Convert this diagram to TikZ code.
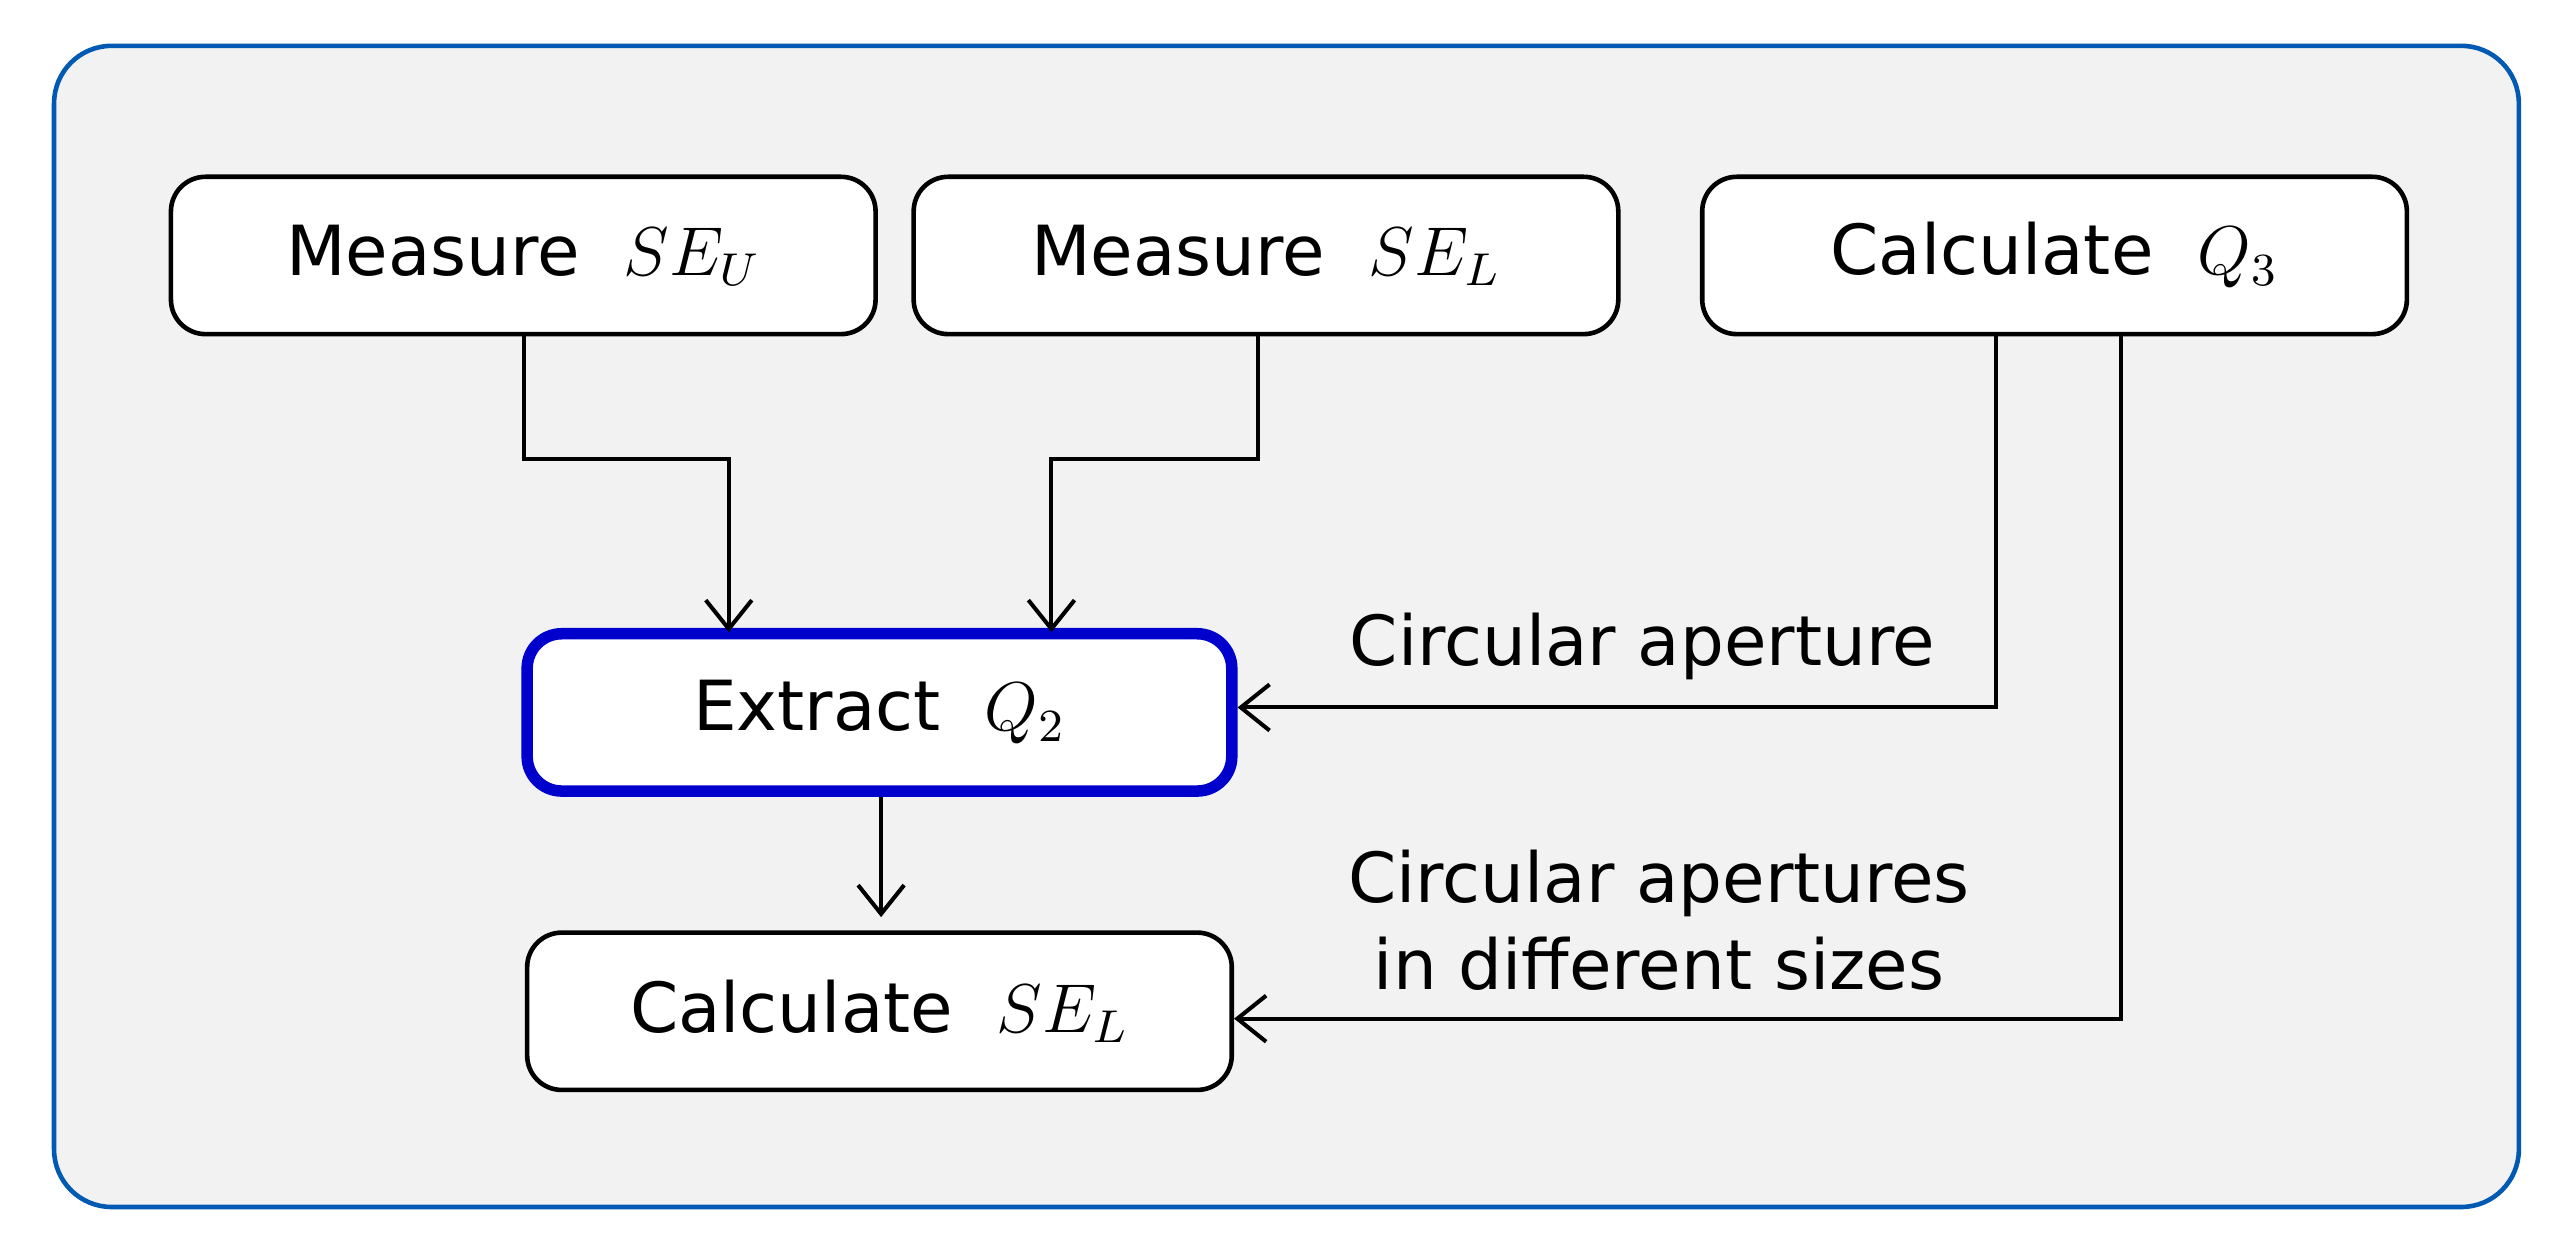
\documentclass[tikz,border=0pt]{standalone}
\usepackage{fontspec}
\setmainfont{DejaVu Sans}
\usetikzlibrary{arrows.meta}
\begin{document}
\begin{tikzpicture}[x=0.01cm,y=-0.01cm,
  box/.style={draw,rounded corners=6pt,line width=0.8pt,fill=white,minimum width=4.3cm,minimum height=0.96cm,font=\fontsize{12}{14}\selectfont},
  arr/.style={line width=0.7pt,-{Straight Barb[length=5pt,width=8pt]}},
  lab/.style={font=\fontsize{12}{15}\selectfont,align=center}]
\useasboundingbox (0,0) rectangle (1568,762);
\draw[rounded corners=10pt,fill=black!5,draw=blue!50!cyan!70!black,line width=0.8pt] (33,28) rectangle (1538,737);
\node[box] (m1) at (319.5,156) {Measure \ $SE_U$};
\node[box] (m2) at (773,156) {Measure \ $SE_L$};
\node[box] (c3) at (1254.5,156) {Calculate \ $Q_3$};
\node[box,draw=blue!80!black,line width=2pt] (ex) at (537,435) {Extract \ $Q_2$};
\node[box] (cs) at (537,617.5) {Calculate \ $SE_L$};
\coordinate (ex1) at (445,386);
\coordinate (ex2) at (642,386);
\draw[arr] (m1.south -| 320,0) -- (320,280) -- (445,280) -- (ex1);
\draw[arr] (m2.south -| 768,0) -- (768,280) -- (642,280) -- (ex2);
\draw[arr] (c3.south -| 1219,0) -- (1219,432) -- (ex.east |- 0,432);
\draw[arr] (c3.south -| 1295,0) -- (1295,622) -- (cs.east |- 0,622);
\draw[arr] (ex.south -| 538,0) -- (538,560);
\node[lab] (l1) at (1003,395) {Circular aperture};
\node[lab] (l2) at (1013,562) {Circular apertures\\in different sizes};
\end{tikzpicture}
\end{document}
